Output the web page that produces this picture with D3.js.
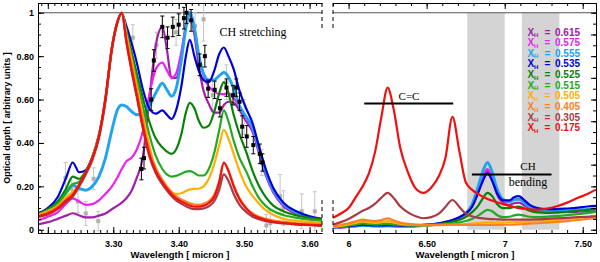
<!DOCTYPE html>
<html>
<head>
<meta charset="utf-8">
<script src="https://cdn.jsdelivr.net/npm/d3@7"></script>
<style>
  body { margin: 0; background: #fff; }
  svg { display: block; }
  .tick text { font-family: "Liberation Sans", Arial, sans-serif; font-weight: bold; font-size: 9px; fill: #000; }
</style>
</head>
<body>
<svg id="chart" width="600" height="262"></svg>
<script>
// ---- data ----
const labels = ["0.615", "0.575", "0.555", "0.535", "0.525", "0.515", "0.505", "0.405", "0.305", "0.175"];
const colors = ["#a020a8", "#f020f0", "#20a4f0", "#0000dd", "#0a820a", "#22aa22", "#ffb000", "#ff8020", "#a83c44", "#f01010"];

// left panel: CH stretching region (micron)
const wlLeft = [3.185, 3.20, 3.215, 3.228, 3.238, 3.248, 3.258, 3.268, 3.278, 3.288,
  3.298, 3.306, 3.313, 3.32, 3.328, 3.336, 3.345, 3.355, 3.365, 3.375,
  3.382, 3.389, 3.396, 3.404, 3.411, 3.417, 3.424, 3.431, 3.438, 3.446,
  3.454, 3.462, 3.469, 3.476, 3.484, 3.493, 3.503, 3.513, 3.523, 3.533,
  3.545, 3.56, 3.58, 3.60, 3.619];

const tauL615 = [.025, .035, .05, .065, .076, .066, .057, .057, .065, .075,
  .095, .11, .125, .145, .18, .24, .33, .60, .85, .935,
  .83, .70, .70, .80, .94, .99, .90, .75, .64, .58,
  .54, .54, .575, .59, .585, .55, .50, .45, .35, .25,
  .17, .11, .073, .053, .043];
const tauL575 = [.042, .06, .08, .12, .145, .13, .115, .118, .135, .165,
  .20, .24, .28, .315, .332, .37, .45, .62, .74, .77,
  .735, .70, .72, .82, .94, .995, .93, .80, .71, .66,
  .64, .625, .625, .63, .605, .57, .51, .46, .36, .26,
  .175, .115, .077, .056, .045];
const tauL555 = [.062, .085, .12, .17, .205, .19, .182, .20, .245, .33,
  .46, .55, .575, .568, .545, .53, .535, .57, .63, .675,
  .645, .615, .65, .78, .93, 1.0, .93, .80, .72, .69,
  .69, .71, .725, .705, .65, .57, .52, .47, .37, .27,
  .18, .12, .08, .058, .046];
const tauL535 = [.075, .10, .15, .24, .31, .265, .275, .335, .435, .60,
  .84, .955, .995, .94, .86, .77, .65, .56, .535, .55,
  .53, .51, .55, .66, .80, .875, .80, .73, .69, .68,
  .73, .81, .84, .80, .74, .64, .56, .49, .38, .28,
  .19, .125, .085, .062, .05];
const tauL525 = [.072, .095, .13, .19, .245, .235, .27, .335, .435, .60,
  .84, .955, 1.0, .92, .82, .72, .61, .50, .42, .38,
  .36, .35, .37, .44, .54, .585, .56, .50, .47, .48,
  .54, .63, .68, .63, .53, .44, .36, .27, .20, .15,
  .11, .085, .066, .055, .048];
const tauL515 = [.07, .09, .12, .17, .21, .22, .265, .33, .43, .60,
  .84, .955, 1.0, .91, .80, .69, .57, .44, .34, .28,
  .255, .245, .248, .258, .268, .27, .262, .25, .25, .28,
  .35, .46, .55, .50, .41, .33, .27, .20, .145, .11,
  .085, .068, .055, .047, .042];
const tauL505 = [.068, .085, .11, .15, .175, .205, .26, .33, .43, .60,
  .84, .955, 1.0, .90, .78, .66, .53, .39, .27, .21,
  .185, .17, .165, .168, .178, .186, .188, .19, .20, .235,
  .30, .39, .46, .42, .35, .27, .20, .155, .12, .09,
  .068, .05, .042, .036, .032];
const tauL405 = [.065, .08, .105, .14, .165, .205, .26, .33, .43, .60,
  .84, .955, 1.0, .885, .76, .64, .505, .37, .285, .23,
  .20, .175, .155, .14, .13, .122, .116, .115, .12, .132,
  .16, .225, .31, .275, .205, .145, .102, .075, .06, .05,
  .042, .036, .031, .028, .026];
const tauL305 = [.058, .07, .095, .128, .152, .20, .255, .32, .42, .59,
  .83, .95, 1.0, .865, .73, .61, .47, .34, .26, .21,
  .18, .155, .135, .12, .108, .10, .095, .095, .098, .108,
  .13, .185, .255, .225, .165, .115, .082, .06, .048, .04,
  .034, .029, .024, .021, .018];
const tauL175 = [.062, .075, .10, .135, .16, .21, .265, .33, .43, .61,
  .84, .955, 1.0, .87, .74, .62, .48, .35, .27, .22,
  .19, .165, .145, .13, .12, .112, .106, .106, .11, .122,
  .15, .22, .31, .27, .20, .14, .098, .07, .055, .045,
  .037, .031, .026, .023, .02];

// right panel: C=C and CH bending region (micron)
const wlRight = [5.9, 5.95, 6.0, 6.05, 6.09, 6.13, 6.17, 6.21, 6.25, 6.29,
  6.33, 6.38, 6.43, 6.48, 6.53, 6.58, 6.62, 6.665, 6.71, 6.75,
  6.79, 6.83, 6.86, 6.89, 6.92, 6.95, 6.99, 7.03, 7.06, 7.09,
  7.12, 7.16, 7.21, 7.27, 7.33, 7.4, 7.47, 7.53, 7.585];

const tauR615 = [.007, .01, .013, .017, .02, .018, .016, .016, .017, .016,
  .015, .015, .016, .018, .021, .026, .032, .04, .052, .07,
  .105, .175, .24, .27, .23, .165, .125, .115, .122, .125,
  .115, .097, .085, .08, .08, .081, .083, .085, .087];
const tauR575 = [.008, .012, .016, .02, .024, .02, .017, .017, .018, .017,
  .016, .016, .017, .019, .022, .027, .033, .042, .055, .073,
  .11, .185, .25, .28, .24, .175, .135, .128, .138, .142,
  .13, .108, .092, .086, .085, .086, .088, .09, .092];
const tauR555 = [.01, .013, .016, .018, .02, .019, .018, .018, .019, .018,
  .017, .017, .018, .02, .023, .028, .034, .043, .056, .075,
  .115, .20, .27, .31, .265, .19, .14, .13, .138, .14,
  .128, .105, .09, .085, .085, .087, .09, .093, .096];
const tauR535 = [.012, .015, .018, .02, .022, .021, .02, .02, .021, .02,
  .019, .019, .02, .022, .025, .03, .036, .045, .058, .075,
  .105, .17, .225, .26, .225, .17, .135, .135, .15, .155,
  .14, .115, .10, .095, .095, .098, .102, .107, .11];
const tauR525 = [.012, .016, .02, .024, .028, .026, .024, .025, .026, .024,
  .022, .021, .021, .022, .024, .027, .031, .037, .045, .058,
  .08, .11, .145, .17, .155, .12, .10, .10, .105, .107,
  .10, .088, .08, .078, .08, .083, .087, .092, .096];
const tauR515 = [.012, .016, .02, .025, .03, .027, .025, .026, .028, .025,
  .022, .02, .02, .02, .021, .023, .025, .028, .033, .04,
  .05, .065, .08, .092, .085, .068, .058, .06, .066, .07,
  .066, .06, .058, .06, .063, .067, .072, .077, .082];
const tauR505 = [.012, .018, .024, .032, .038, .034, .032, .035, .04, .033,
  .027, .023, .021, .02, .02, .021, .022, .023, .024, .026,
  .028, .031, .033, .034, .034, .033, .033, .034, .035, .036,
  .036, .037, .039, .042, .045, .05, .055, .06, .065];
const tauR405 = [.014, .022, .03, .04, .047, .042, .04, .045, .052, .042,
  .033, .027, .024, .022, .022, .022, .023, .024, .023, .022,
  .022, .022, .022, .022, .022, .022, .023, .023, .024, .025,
  .026, .028, .03, .033, .036, .04, .045, .05, .055];
const tauR305 = [.023, .035, .05, .07, .088, .10, .12, .148, .17, .145,
  .108, .08, .062, .053, .058, .075, .105, .137, .105, .075,
  .062, .055, .052, .05, .049, .048, .047, .047, .047, .047,
  .047, .047, .048, .05, .052, .055, .058, .06, .062];
const tauR175 = [.055, .075, .10, .155, .20, .26, .36, .52, .655, .55,
  .38, .265, .19, .17, .195, .25, .33, .52, .36, .22,
  .185, .165, .152, .142, .134, .127, .118, .11, .105, .10,
  .097, .094, .093, .097, .107, .125, .147, .165, .185];

// observed spectrum (black) and second data set (grey)
const obsWl = [3.343, 3.347, 3.358, 3.362, 3.375, 3.383, 3.391, 3.400, 3.408, 3.412, 3.419, 3.432, 3.440,
  3.445, 3.455, 3.463, 3.473, 3.483, 3.488, 3.493, 3.497, 3.504, 3.514, 3.524, 3.528];
const obsTau = [0.28, 0.33, 0.60, 0.78, 0.935, 0.885, 0.935, 0.945, 0.975, 1.0, 0.965, 0.76, 0.80,
  0.65, 0.645, 0.56, 0.655, 0.62, 0.655, 0.59, 0.475, 0.43, 0.39, 0.35, 0.31];
const obsErr = [0.05, 0.05, 0.05, 0.05, 0.05, 0.05, 0.045, 0.05, 0.05, 0.05, 0.05, 0.05, 0.05,
  0.04, 0.04, 0.04, 0.04, 0.045, 0.04, 0.04, 0.05, 0.05, 0.04, 0.045, 0.04];

const grayWl = [3.227, 3.236, 3.246, 3.258, 3.27, 3.277, 3.33, 3.352, 3.366, 3.396, 3.425, 3.438,
  3.452, 3.473, 3.5, 3.527, 3.534, 3.54, 3.555, 3.56, 3.588, 3.608];
const grayTau = [0.24, 0.19, 0.13, 0.075, 0.235, 0.04, 0.885, 0.45, 0.85, 0.91, 0.94, 0.97,
  0.62, 0.68, 0.52, 0.31, 0.02, 0.03, 0.155, 0.10, 0.085, 0.085];
const grayErr = [0.07, 0.05, 0.05, 0.055, 0.05, 0.045, 0.06, 0.07, 0.06, 0.06, 0.06, 0.1,
  0.07, 0.08, 0.08, 0.06, 0.05, 0.06, 0.1, 0.08, 0.08, 0.09];

// shaded CH bending bands (micron)
const bandStart = [6.76, 7.11];
const bandEnd = [7.0, 7.35];

const tauLeft = [tauL615, tauL575, tauL555, tauL535, tauL525, tauL515, tauL505, tauL405, tauL305, tauL175];
const tauRight = [tauR615, tauR575, tauR555, tauR535, tauR525, tauR515, tauR505, tauR405, tauR305, tauR175];

// ---- scales ----
const svg = d3.select("#chart");
const yS = d3.scaleLinear().domain([-0.015, 1.045]).range([233, 3]);
const xL = d3.scaleLinear().domain([3.185, 3.619]).range([38, 322]);
const xR = d3.scaleLinear().domain([5.9, 7.585]).range([333, 596]);

const defs = svg.append("defs");
defs.append("clipPath").attr("id", "clipL").append("rect")
  .attr("x", 38).attr("y", 3).attr("width", 284).attr("height", 230);
defs.append("clipPath").attr("id", "clipR").append("rect")
  .attr("x", 333).attr("y", 3).attr("width", 263).attr("height", 230);

const gL = svg.append("g").attr("clip-path", "url(#clipL)");
const gR = svg.append("g").attr("clip-path", "url(#clipR)");

// grey bands in right panel
gR.selectAll(".band")
  .data(bandStart.map((s, i) => [s, bandEnd[i]]))
  .enter().append("rect")
  .attr("x", d => xR(d[0]))
  .attr("width", d => xR(d[1]) - xR(d[0]))
  .attr("y", yS(1))
  .attr("height", yS(0) - yS(1))
  .attr("fill", "#d4d4d4");

// reference line at 1
gL.append("line").attr("x1", 38).attr("x2", 322).attr("y1", yS(1)).attr("y2", yS(1))
  .attr("stroke", "#555").attr("stroke-width", 1);
gR.append("line").attr("x1", 333).attr("x2", 596).attr("y1", yS(1)).attr("y2", yS(1))
  .attr("stroke", "#555").attr("stroke-width", 1);

// error-bar points
function drawPoints(g, wl, tau, err, col, barCol) {
  const pts = wl.map((w, i) => ({ w: w, t: tau[i], e: err[i] }));
  const sel = g.selectAll(null).data(pts).enter().append("g");
  sel.append("line")
    .attr("x1", d => xL(d.w)).attr("x2", d => xL(d.w))
    .attr("y1", d => yS(d.t - d.e)).attr("y2", d => yS(d.t + d.e))
    .attr("stroke", barCol).attr("stroke-width", 1);
  sel.append("line")
    .attr("x1", d => xL(d.w) - 2).attr("x2", d => xL(d.w) + 2)
    .attr("y1", d => yS(d.t + d.e)).attr("y2", d => yS(d.t + d.e))
    .attr("stroke", barCol).attr("stroke-width", 1);
  sel.append("line")
    .attr("x1", d => xL(d.w) - 2).attr("x2", d => xL(d.w) + 2)
    .attr("y1", d => yS(d.t - d.e)).attr("y2", d => yS(d.t - d.e))
    .attr("stroke", barCol).attr("stroke-width", 1);
  sel.append("rect")
    .attr("x", d => xL(d.w) - 2).attr("y", d => yS(d.t) - 2)
    .attr("width", 4).attr("height", 4)
    .attr("fill", col);
}

drawPoints(gL, grayWl, grayTau, grayErr, "#b0b0b0", "#c4c4c4");

// model curves
const lineL = d3.line().x(d => xL(d[0])).y(d => yS(d[1])).curve(d3.curveMonotoneX);
const lineR = d3.line().x(d => xR(d[0])).y(d => yS(d[1])).curve(d3.curveMonotoneX);

labels.forEach((lab, i) => {
  const w = (lab === "0.555") ? 2.9 : 2.2;
  gL.append("path")
    .datum(wlLeft.map((x, j) => [x, tauLeft[i][j]]))
    .attr("d", lineL).attr("fill", "none")
    .attr("stroke", colors[i]).attr("stroke-width", w);
  gR.append("path")
    .datum(wlRight.map((x, j) => [x, tauRight[i][j]]))
    .attr("d", lineR).attr("fill", "none")
    .attr("stroke", colors[i]).attr("stroke-width", w);
});

drawPoints(gL, obsWl, obsTau, obsErr, "#000", "#000");

// ---- axes ----
function ax(gen, tx, ty) {
  const g = svg.append("g").attr("transform", "translate(" + tx + "," + ty + ")").call(gen);
  g.select(".domain").attr("stroke", "#000");
  g.selectAll(".tick line").attr("stroke", "#000");
  return g;
}
const minorL = d3.range(319, 362).map(d => d / 100);
const majorL = [3.2, 3.3, 3.4, 3.5, 3.6];
const minorR = d3.range(59, 76).map(d => d / 10);
const majorR = [6, 6.5, 7, 7.5];
const minorY = d3.range(0, 21).map(d => d * 0.05);
const majorY = [0, 0.2, 0.4, 0.6, 0.8, 1];

const fmtL = d => (Math.abs(d - 3.2) < 1e-6) ? "" : d3.format(".2f")(d);
const fmtR = d => Number.isInteger(d) ? String(d) : d3.format(".2f")(d);
const fmtY = d => (d === 0 || d === 1) ? String(d) : d3.format(".2f")(d);

// left panel
ax(d3.axisBottom(xL).tickValues(minorL).tickSize(-3).tickSizeOuter(0).tickFormat(""), 0, 233);
ax(d3.axisBottom(xL).tickValues(majorL).tickSize(-6).tickSizeOuter(0).tickPadding(8).tickFormat(fmtL), 0, 233);
ax(d3.axisTop(xL).tickValues(minorL).tickSize(-3).tickSizeOuter(0).tickFormat(""), 0, 3);
ax(d3.axisTop(xL).tickValues(majorL).tickSize(-6).tickSizeOuter(0).tickFormat(""), 0, 3);
ax(d3.axisLeft(yS).tickValues(minorY).tickSize(-3).tickSizeOuter(0).tickFormat(""), 38, 0);
ax(d3.axisLeft(yS).tickValues(majorY).tickSize(-6).tickSizeOuter(0).tickPadding(4).tickFormat(fmtY), 38, 0);

// right panel
ax(d3.axisBottom(xR).tickValues(minorR).tickSize(-3).tickSizeOuter(0).tickFormat(""), 0, 233);
ax(d3.axisBottom(xR).tickValues(majorR).tickSize(-6).tickSizeOuter(0).tickPadding(8).tickFormat(fmtR), 0, 233);
ax(d3.axisTop(xR).tickValues(minorR).tickSize(-3).tickSizeOuter(0).tickFormat(""), 0, 3);
ax(d3.axisTop(xR).tickValues(majorR).tickSize(-6).tickSizeOuter(0).tickFormat(""), 0, 3);
ax(d3.axisRight(yS).tickValues(minorY).tickSize(-3).tickSizeOuter(0).tickFormat(""), 596, 0);
ax(d3.axisRight(yS).tickValues(majorY.concat([0.1, 0.3, 0.5, 0.7, 0.9])).tickSize(-5).tickSizeOuter(0).tickFormat(""), 596, 0);

// broken-axis marks
[322, 333].forEach(x => {
  [[3, 28], [200, 233]].forEach(seg => {
    svg.append("line").attr("x1", x).attr("x2", x).attr("y1", seg[0]).attr("y2", seg[1])
      .attr("stroke", "#000").attr("stroke-width", 1).attr("stroke-dasharray", "4,3");
  });
});

// axis titles
const bold = "'Liberation Sans', Arial, sans-serif";
svg.append("text").attr("x", 180).attr("y", 258).attr("text-anchor", "middle")
  .attr("font-family", bold).attr("font-weight", "bold").attr("font-size", 9.5)
  .text("Wavelength [ micron ]");
svg.append("text").attr("x", 465).attr("y", 258).attr("text-anchor", "middle")
  .attr("font-family", bold).attr("font-weight", "bold").attr("font-size", 9.5)
  .text("Wavelength [ micron ]");
svg.append("text").attr("transform", "translate(10,118) rotate(-90)").attr("text-anchor", "middle")
  .attr("font-family", bold).attr("font-weight", "bold").attr("font-size", 9)
  .text("Optical depth [ arbitrary units ]");

// annotations
const serif = "'Liberation Serif', 'DejaVu Serif', serif";
svg.append("text").attr("x", 253).attr("y", 36).attr("text-anchor", "middle")
  .attr("font-family", serif).attr("font-size", 12).text("CH stretching");
svg.append("text").attr("x", 409).attr("y", 100).attr("text-anchor", "middle")
  .attr("font-family", serif).attr("font-size", 11).text("C=C");
svg.append("line").attr("x1", xR(6.1)).attr("x2", xR(6.67)).attr("y1", 103.5).attr("y2", 103.5)
  .attr("stroke", "#000").attr("stroke-width", 2);
svg.append("text").attr("x", 528).attr("y", 170).attr("text-anchor", "middle")
  .attr("font-family", serif).attr("font-size", 11).text("CH");
svg.append("line").attr("x1", xR(6.79)).attr("x2", xR(7.3)).attr("y1", 174.5).attr("y2", 174.5)
  .attr("stroke", "#000").attr("stroke-width", 2);
svg.append("text").attr("x", 528).attr("y", 186).attr("text-anchor", "middle")
  .attr("font-family", serif).attr("font-size", 12).text("bending");

// legend
const leg = svg.append("g");
labels.forEach((lab, i) => {
  const y = 35.5 + i * 10.65;
  const t = leg.append("text").attr("y", y)
    .attr("font-family", bold).attr("font-weight", "bold").attr("font-size", 10)
    .attr("fill", colors[i]);
  t.append("tspan").attr("x", 527.5).text("X");
  t.append("tspan").attr("x", 534).attr("dy", 1.5).attr("font-size", 6).text("H");
  t.append("tspan").attr("x", 544.5).attr("dy", -1.5).text("=");
  t.append("tspan").attr("x", 555).text(lab);
});
</script>
</body>
</html>
